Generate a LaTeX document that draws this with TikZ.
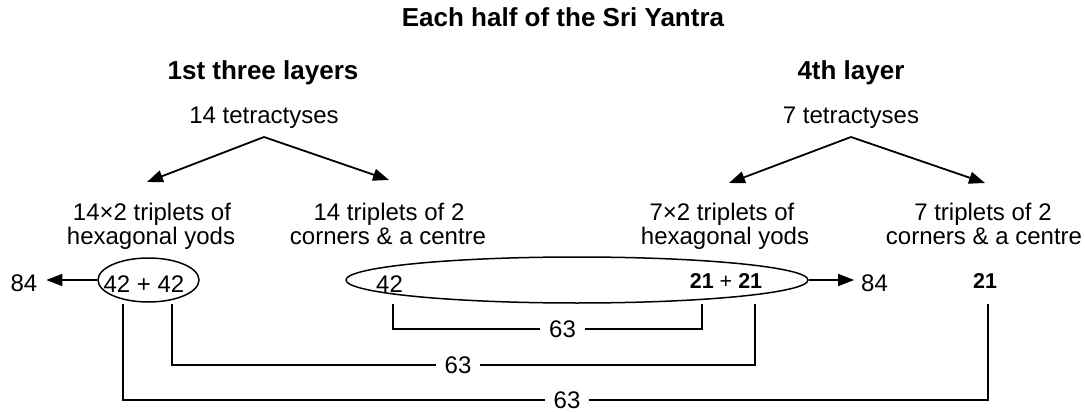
\documentclass[tikz,border=0pt]{standalone}
\usepackage{fontspec}
\setmainfont{Liberation Sans}
\usetikzlibrary{shapes.geometric,arrows.meta,calc}
\begin{document}
\begin{tikzpicture}[x=1pt,y=-1pt,
  body/.style={font=\fontsize{24}{25}\selectfont, anchor=base, inner sep=0pt},
  head/.style={font=\fontsize{26}{28}\selectfont\bfseries, anchor=base, inner sep=0pt},
  bnum/.style={font=\fontsize{21.5}{23}\selectfont, anchor=base, inner sep=0pt},
  oval/.style={draw, ellipse, line width=1.5pt, inner sep=0pt},
  arr/.style={line width=1.8pt, -{Triangle[length=16pt,width=12pt]}},
  link/.style={line width=2pt},
  lab/.style={font=\fontsize{24}{25}\selectfont, fill=white, inner xsep=9pt, inner ysep=0pt, anchor=center}
]
\useasboundingbox (0,0) rectangle (1085,412);

% titles
\node[head] (title) at (563,27) {Each half of the Sri Yantra};
\node[head] (hL) at (263,80) {1st three layers};
\node[head] (hR) at (851,80) {4th layer};
\node[body] (tetL) at (264,123) {14 tetractyses};
\node[body] (tetR) at (851,123) {7 tetractyses};

% second row texts
\node[body] (hexL1) at (152,220) {14×2 triplets of};
\node[body] (hexL2) at (151,244) {hexagonal yods};
\node[body] (corL1) at (389,220) {14 triplets of 2};
\node[body] (corL2) at (388,244) {corners \& a centre};
\node[body] (hexR1) at (722,220) {7×2 triplets of};
\node[body] (hexR2) at (725,244) {hexagonal yods};
\node[body] (corR1) at (983,220) {7 triplets of 2};
\node[body] (corR2) at (984,244) {corners \& a centre};

% diagonal arrows
\coordinate (apL) at (264,137);
\coordinate (apR) at (851,137);
\coordinate (tLL) at (147,182);
\coordinate (tLR) at (389,180);
\coordinate (tRL) at (729,183);
\coordinate (tRR) at (985,183);
\draw[arr] (apL) -- (tLL);
\draw[arr] (apL) -- (tLR);
\draw[arr] (apR) -- (tRL);
\draw[arr] (apR) -- (tRR);

% ellipses
\node[oval, minimum width=101pt, minimum height=44pt] (e1) at (148.5,280) {};
\node[oval, minimum width=462pt, minimum height=46pt] (e2) at (577,280) {};

% numbers
\node[body] (n4242) at (144,292) {42 + 42};
\node[body] (n42) at (389.5,292) {42};
\node[bnum] (n2121) at (726,288) {\textbf{21} + \textbf{21}};
\node[bnum] (n21) at (985,288) {\textbf{21}};
\node[body, outer xsep=9pt] (n84L) at (24,291) {84};
\node[body, outer xsep=7pt] (n84R) at (874.5,291) {84};

\draw[arr] (e1.west) -- (n84L.east |- e1.west);
\draw[arr] (e2.east) -- (n84R.west |- e2.east);

% bracket connectors
\coordinate (a1) at (123,304);
\coordinate (a2) at (172,304);
\coordinate (b1) at (393,304);
\coordinate (c1) at (702,304);
\coordinate (c2) at (755,304);
\coordinate (d1) at (988,304);

\draw[link] (b1) -- (b1 |- 0,329) -- (c1 |- 0,329) -- (c1);
\draw[link] (a2) -- (a2 |- 0,365) -- (c2 |- 0,365) -- (c2);
\draw[link] (a1) -- (a1 |- 0,400) -- (d1 |- 0,400) -- (d1);

\node[lab] (l1) at (562.5,329) {63};
\node[lab] (l2) at (458,365) {63};
\node[lab] (l3) at (567,400) {63};
\end{tikzpicture}
\end{document}
